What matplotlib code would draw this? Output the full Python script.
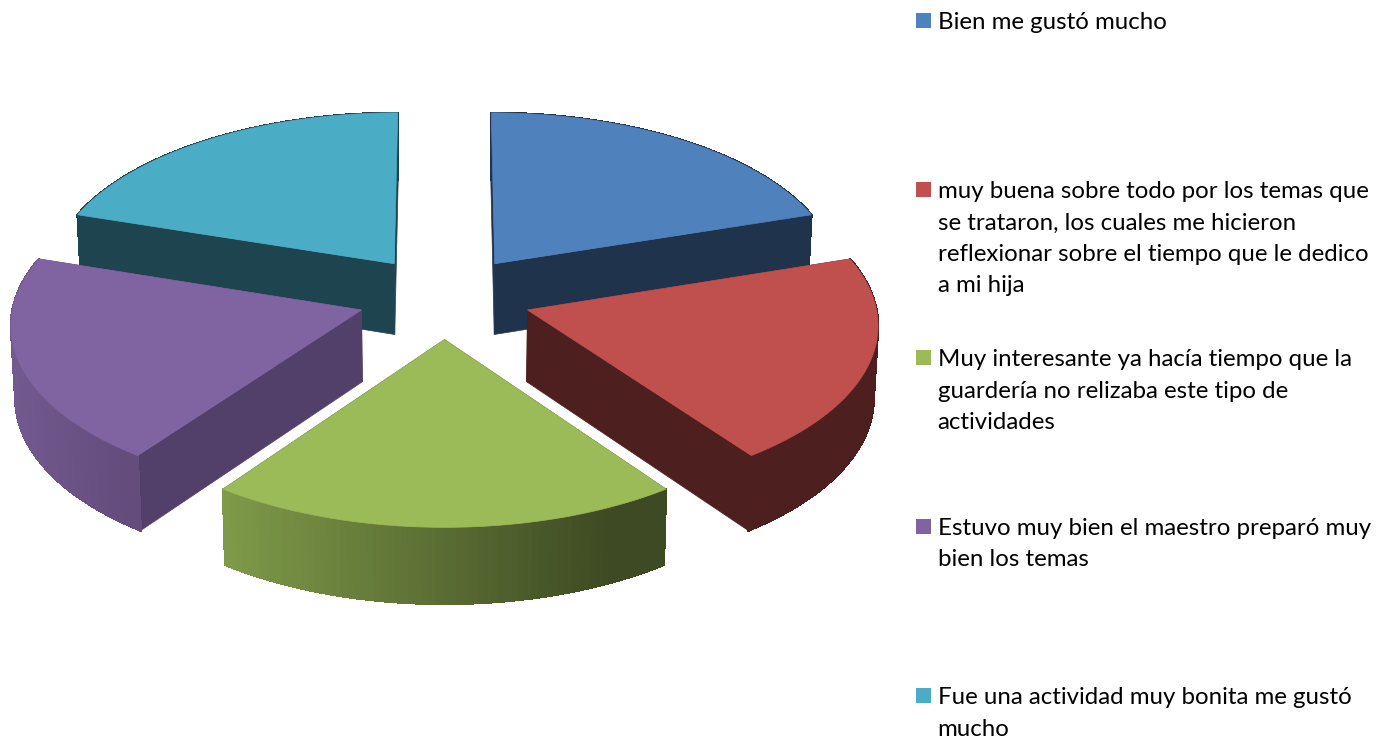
import numpy as np
import matplotlib
matplotlib.use('Agg')
import matplotlib.pyplot as plt
from matplotlib.collections import PolyCollection
from matplotlib.colors import to_rgb
from matplotlib.patches import Polygon, Rectangle

plt.rcParams['font.family'] = ['Lato', 'DejaVu Sans']

valores = [20, 20, 20, 20, 20]
etiquetas = [
    ['Bien me gustó mucho'],
    ['muy buena sobre todo por los temas que',
     'se trataron, los cuales me hicieron',
     'reflexionar sobre el tiempo que le dedico',
     'a mi hija'],
    ['Muy interesante ya hacía tiempo que la',
     'guardería no relizaba este tipo de',
     'actividades'],
    ['Estuvo muy bien el maestro preparó muy',
     'bien los temas'],
    ['Fue una actividad muy bonita me gustó',
     'mucho'],
]
colores = ['#4F81BD', '#C0504D', '#9BBB59', '#8064A2', '#4BACC6']
lado = ['#1F334D', '#4D1F1E', '#3E4A23', '#53406A', '#1E4450']
pared_izq = ['#1F334D', '#4D1F1E', '#7E9A48', '#72598F', '#1E4450']
pared_der = ['#1F334D', '#4D1F1E', '#3E4A23', '#644D7D', '#1E4450']
leyenda_y = [28, 197, 365, 534, 703]

# proyeccion del disco a pixeles
CX, CY, F, G, K = 444.5, 297, 347, 167, 0.075
EXPLOTA, ALTO, ENCOGE = 0.25, 71.5, 0.99


def proyecta(x, y, abajo=False):
    w = 1 + K * y
    if abajo:
        return CX + ENCOGE * F * x / w, CY - ENCOGE * G * y / w + ALTO / w
    return CX + F * x / w, CY - G * y / w


def mezcla(c1, c2, t):
    return tuple((1 - t) * a + t * b for a, b in zip(to_rgb(c1), to_rgb(c2)))


fig = plt.figure(figsize=(13.94, 7.42), dpi=100)
ax = fig.add_axes([0, 0, 1, 1])
ax.set_xlim(0, 1394)
ax.set_ylim(742, 0)
ax.axis('off')

# angulos de cada rebanada, en sentido horario desde arriba
total = sum(valores)
limites = 90 - np.cumsum([0] + valores) / total * 360
rebanadas = []
for i in range(len(valores)):
    a1, a2 = np.radians(limites[i]), np.radians(limites[i + 1])
    medio = (a1 + a2) / 2
    ox, oy = EXPLOTA * np.cos(medio), EXPLOTA * np.sin(medio)
    t = np.linspace(a1, a2, 70)
    rebanadas.append((i, ox, oy, ox + np.cos(t), oy + np.sin(t)))

# de atras hacia adelante
for i, ox, oy, xs, ys in [rebanadas[j] for j in (0, 4, 3, 1, 2)]:
    arriba = np.column_stack(proyecta(xs, ys))
    abajo = np.column_stack(proyecta(xs, ys, True))
    a0 = np.array(proyecta(ox, oy))
    b0 = np.array(proyecta(ox, oy, True))

    for k in (0, -1):
        ax.add_patch(Polygon([a0, arriba[k], abajo[k], b0], closed=True,
                             fc=lado[i], ec=lado[i], lw=0.5))

    cuadros, tonos = [], []
    x0, x1 = arriba[:, 0].min(), arriba[:, 0].max()
    for k in range(len(xs) - 1):
        cuadros.append([arriba[k], arriba[k + 1], abajo[k + 1], abajo[k]])
        tono = ((arriba[k, 0] + arriba[k + 1, 0]) / 2 - x0) / (x1 - x0)
        tonos.append(mezcla(pared_izq[i], pared_der[i], min(tono * 1.15, 1)))
    # sin antialias para que no se vean rayas entre cuadros
    ax.add_collection(PolyCollection(cuadros, facecolors=tonos,
                                     edgecolors=tonos, linewidths=1,
                                     antialiaseds=False))

    ax.add_patch(Polygon(np.vstack([a0, arriba]), closed=True,
                         fc=colores[i], ec=colores[i], lw=0.5))

# leyenda
for i, lineas in enumerate(etiquetas):
    base = leyenda_y[i]
    ax.add_patch(Rectangle((916, base - 15), 15, 15, fc=colores[i], ec='none'))
    for n, linea in enumerate(lineas):
        ax.text(937.5, base + 1 + n * 31.5, linea, fontsize=17.3, color='black',
                va='baseline', ha='left')

fig.savefig('out.png', dpi=100, facecolor='white')
